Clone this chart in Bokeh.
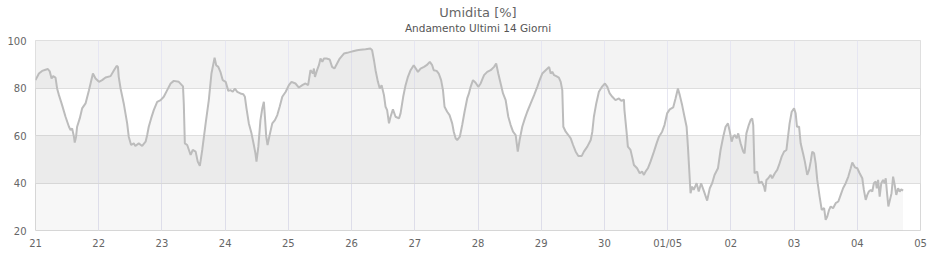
from bokeh.plotting import figure
from bokeh.models import FixedTicker, BoxAnnotation, Title, Range1d
from bokeh.embed import file_html
from bokeh.resources import INLINE

# Hours since 21 April 00:00
hours = [0.0,1.3,2.5,3.8,4.7,5.4,6.1,6.7,7.6,8.2,8.9,10.1,11.4,12.7,13.3,13.9,14.6,14.9,15.4,15.8,
         16.8,17.7,19.0,20.3,20.9,21.8,22.8,24.1,25.3,26.6,28.5,29.8,30.8,31.3,31.6,32.3,33.5,34.8,35.4,36.3,
         37.3,37.9,39.2,40.5,41.8,42.4,43.0,43.9,44.9,46.2,47.5,48.7,50.0,51.3,52.5,
         54.4,56.0,56.3,56.7,57.6,58.9,59.7,60.8,61.6,62.4,63.3,64.6,65.8,66.8,68.0,68.6,69.4,70.2,71.1,72.2,
         73.2,74.0,74.9,75.7,76.6,77.8,78.9,79.5,80.1,81.0,82.0,82.9,83.5,83.9,84.6,85.4,86.1,86.7,87.1,87.6,
         88.1,88.9,89.9,90.9,91.8,92.7,93.7,95.0,96.2,97.2,98.7,100.0,101.3,102.5,103.5,104.4,105.3,105.7,106.1,106.9,
         107.6,108.2,108.9,109.5,
         110.5,111.7,112.6,113.5,114.5,115.5,117.1,118.3,119.6,120.9,122.1,123.4,125.3,127.2,127.8,128.5,129.1,130.0,130.7,131.4,
         132.3,132.9,133.5,134.2,134.8,135.7,136.7,138.0,138.6,139.6,140.5,141.4,142.4,143.6,145.2,146.2,147.5,148.5,149.7,150.6,
         151.2,152.3,153.1,154.0,154.7,155.3,156.3,157.2,158.2,158.8,159.5,160.1,161.1,162.0,162.9,163.9,
         164.5,165.2,166.1,167.1,168.1,169.0,170.3,171.5,172.8,174.1,174.9,175.7,176.6,177.5,178.5,179.5,180.4,181.3,182.3,183.1,
         183.8,184.8,185.8,186.7,188.0,189.3,190.5,191.4,192.4,193.7,195.0,195.6,196.2,196.9,197.7,198.7,199.4,200.0,200.4,201.3,
         202.3,203.2,204.1,205.1,206.1,207.4,208.2,209.5,210.8,211.4,212.0,212.9,213.9,215.2,216.2,217.1,218.0,219.0,
         220.2,221.5,222.4,223.4,223.6,224.4,224.9,225.9,226.5,227.2,228.4,229.4,230.3,231.0,231.6,232.5,233.5,234.8,235.8,236.7,
         237.9,238.8,239.8,240.8,242.1,243.0,243.9,244.6,245.5,246.4,247.2,247.7,248.2,248.7,249.3,249.9,251.0,251.8,252.7,253.7,
         255.0,256.0,256.9,257.8,259.1,260.1,261.1,262.0,262.9,263.6,264.3,264.9,265.5,266.2,266.8,267.7,268.7,269.2,269.9,270.8,
         271.5,272.1,272.5,273.0,274.0,274.7,
         275.7,276.6,277.0,277.5,278.2,279.1,279.7,280.7,281.6,282.3,283.3,284.2,285.1,285.7,286.3,287.1,288.0,288.6,289.1,289.9,
         290.5,291.4,292.1,293.0,293.7,294.3,294.9,295.6,296.2,296.8,297.7,298.5,299.4,300.0,300.6,301.3,301.9,302.8,303.8,304.8,
         305.7,306.6,307.6,308.6,309.5,310.1,311.1,312.0,312.9,313.9,314.5,315.2,315.8,316.4,317.1,317.7,318.3,319.0,319.4,319.9,
         320.5,321.1,321.8,322.4,322.8,323.3,323.8,324.4,325.0,325.6,326.2,326.8,327.5,328.1,328.7,329.4]

humidity = [83.3,86.1,87.2,87.7,88.0,87.0,84.0,85.0,84.4,79.8,77.0,72.8,67.9,63.7,62.3,63.0,59.5,57.0,59.5,63.7,
            67.2,71.4,73.5,79.1,81.9,86.1,84.0,82.6,83.3,84.4,85.0,87.5,89.3,88.9,84.7,79.8,73.5,65.1,59.5,56.0,
            56.7,55.6,56.7,55.6,57.4,60.2,63.7,67.2,70.7,74.2,74.9,76.3,79.1,81.9,83.0,
            82.6,80.7,73.5,56.7,56.0,51.8,53.9,53.2,49.0,47.2,53.9,65.1,74.9,86.1,92.8,89.6,88.9,86.8,83.3,82.6,
            78.8,79.1,78.4,79.8,78.4,77.7,77.4,76.3,71.4,65.1,60.9,56.0,52.5,49.0,55.3,66.5,71.4,74.2,67.9,59.5,
            56.0,60.2,65.1,66.5,68.6,72.1,76.3,78.4,81.2,82.6,81.9,80.2,81.2,81.9,81.2,87.5,86.1,88.2,84.7,87.5,
            89.6,92.4,91.0,92.4,
            92.4,92.0,88.9,88.2,90.3,92.4,94.5,94.8,95.2,95.6,95.9,96.1,96.3,96.6,95.9,91.7,87.5,82.6,79.8,81.2,
            77.0,72.1,70.7,65.1,67.9,71.0,67.9,67.2,69.3,76.3,81.2,84.7,87.5,89.6,86.8,88.2,88.9,89.6,91.0,89.6,
            87.5,87.2,86.1,83.3,79.1,72.1,70.0,68.6,65.1,61.6,58.8,58.1,59.5,64.4,70.0,75.6,
            77.5,80.5,83.3,82.2,80.5,81.9,85.4,86.8,87.5,88.9,90.3,86.1,81.9,77.7,74.9,67.9,64.4,61.6,60.2,53.2,
            58.1,63.7,67.2,70.0,73.5,77.0,80.5,83.3,86.1,87.5,88.9,86.1,86.8,85.4,85.0,84.4,82.6,79.1,63.7,61.6,
            60.2,58.8,56.0,53.2,51.4,51.4,53.2,55.3,58.1,61.6,67.9,73.5,78.4,80.7,81.9,80.5,77.7,76.3,
            74.9,75.6,74.6,75.1,70.7,61.6,55.3,53.9,51.1,47.6,46.2,44.1,44.8,43.4,44.8,46.2,49.0,53.2,56.7,59.5,
            61.6,64.4,69.3,71.0,71.8,75.6,79.8,77.0,72.8,67.9,63.7,55.3,45.5,35.7,38.5,37.1,39.9,36.4,39.9,36.8,
            32.6,37.8,39.9,43.4,46.2,53.9,59.5,63.7,65.1,61.6,57.4,59.5,60.2,58.8,60.9,56.7,53.2,52.5,60.9,64.4,
            66.5,67.2,64.4,44.1,44.8,39.9,
            40.6,38.5,36.4,41.3,42.0,43.4,42.0,44.1,45.5,47.6,51.1,53.2,53.9,59.5,65.1,70.0,71.4,69.3,63.7,63.7,
            56.7,52.5,49.0,43.4,45.5,49.0,53.2,52.5,48.3,41.3,34.3,28.7,29.4,24.5,25.9,28.7,30.1,29.4,31.5,32.2,
            35.0,37.8,39.9,42.7,46.2,48.6,46.6,46.2,44.1,42.0,37.1,32.9,35.0,36.4,37.1,36.4,39.9,40.6,37.8,41.3,
            34.3,39.9,41.3,39.9,42.0,35.7,30.1,32.9,35.7,42.7,39.2,35.0,37.8,36.4,37.3,36.8]

day_ticks = [0, 24, 48, 72, 96, 120, 144, 168, 192, 216, 240, 264, 288, 312, 336]
day_labels = ["21", "22", "23", "24", "25", "26", "27", "28", "29", "30", "01/05", "02", "03", "04", "05"]
y_ticks = [20, 40, 60, 80, 100]
band_edges = [(80, 100), (40, 60)]

FONT = "DejaVu Sans"

p = figure(width=940, height=260, output_backend="svg", toolbar_location=None,
           x_range=Range1d(0, 336), y_range=Range1d(20, 100),
           min_border_left=35, min_border_right=20, min_border_top=40, min_border_bottom=30,
           background_fill_color="white", border_fill_color="white")

for lo, hi in band_edges:
    p.add_layout(BoxAnnotation(bottom=lo, top=hi, fill_color="#f3f3f3", fill_alpha=1.0,
                               line_color=None, level="image"))

p.varea(x=hours, y1=20, y2=humidity, fill_color="black", fill_alpha=0.03)
p.line(hours, humidity, line_color="#bcbcbc", line_width=2)

p.xaxis.ticker = FixedTicker(ticks=day_ticks)
p.xaxis.major_label_overrides = {t: l for t, l in zip(day_ticks, day_labels)}
p.yaxis.ticker = FixedTicker(ticks=y_ticks)
p.xgrid.ticker = FixedTicker(ticks=day_ticks)
p.ygrid.ticker = FixedTicker(ticks=y_ticks)
p.xgrid.grid_line_color = "#e6e6f2"
p.ygrid.grid_line_color = "#dedede"

for ax in (p.xaxis[0], p.yaxis[0]):
    ax.axis_line_color = None
    ax.major_tick_line_color = None
    ax.minor_tick_line_color = None
    ax.major_tick_out = 0
    ax.major_tick_in = 0
    ax.minor_tick_out = 0
    ax.minor_tick_in = 0
    ax.major_label_text_font = FONT
    ax.major_label_text_font_size = "10px"
    ax.major_label_text_color = "#666666"
p.xaxis.major_label_standoff = 7
p.yaxis.major_label_standoff = 9

p.outline_line_color = "#d8d8d8"
p.outline_line_width = 1

sub = Title(text="Andamento Ultimi 14 Giorni", align="center", offset=-8,
            text_font=FONT, text_font_size="10.5px", text_font_style="normal",
            text_color="#555555", standoff=13)
main = Title(text="Umidita [%]", align="center", offset=-8,
             text_font=FONT, text_font_size="13px", text_font_style="normal",
             text_color="#666666", standoff=-12)
p.add_layout(sub, "above")
p.add_layout(main, "above")

open("out.html", "w").write(file_html(p, INLINE))
